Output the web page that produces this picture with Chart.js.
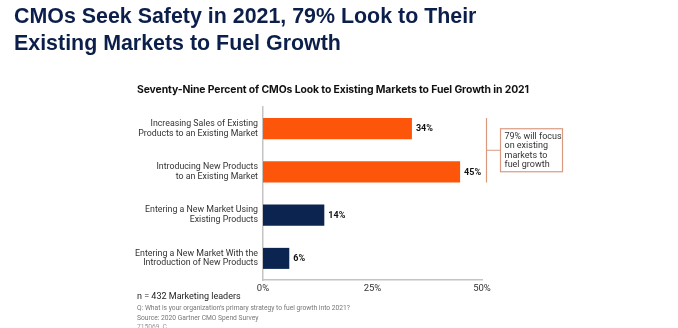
<!DOCTYPE html>
<html>
<head>
<meta charset="utf-8">
<script src="https://cdn.jsdelivr.net/npm/chart.js@4"></script>
<style>
  html, body { margin:0; padding:0; background:#fff; width:678px; height:328px; overflow:hidden; }
  #wrap { position:relative; width:678px; height:328px; }
  canvas { position:absolute; left:0; top:0; }
  .t { position:absolute; white-space:nowrap; }
  #title { left:14px; top:3px; font-family:"Liberation Sans", Arial, sans-serif; font-weight:bold; font-size:21.4px; line-height:27px; color:#0c1f4b; }
  #sub { left:137px; top:83px; font-family:"Inter", "Noto Sans", sans-serif; font-weight:700; font-size:10.4px; color:#111; letter-spacing:-0.1px; }
  #n { left:137px; top:291px; font-family:Roboto, "Noto Sans", sans-serif; font-size:9px; color:#222; }
  #q { left:137px; top:304px; font-family:Roboto, "Noto Sans", sans-serif; font-size:6.7px; color:#777; }
  #src { left:137px; top:314px; font-family:Roboto, "Noto Sans", sans-serif; font-size:6.7px; color:#777; }
  #id { left:137px; top:323px; font-family:Roboto, "Noto Sans", sans-serif; font-size:6.7px; color:#999; }
</style>
</head>
<body>
<div id="wrap">
  <canvas id="c" width="678" height="328"></canvas>
  <div class="t" id="title">CMOs Seek Safety in 2021, 79% Look to Their<br>Existing Markets to Fuel Growth</div>
  <div class="t" id="sub">Seventy-Nine Percent of CMOs Look to Existing Markets to Fuel Growth in 2021</div>
  <div class="t" id="n">n = 432 Marketing leaders</div>
  <div class="t" id="q">Q: What is your organization’s primary strategy to fuel growth into 2021?</div>
  <div class="t" id="src">Source: 2020 Gartner CMO Spend Survey</div>
  <div class="t" id="id">715069_C</div>
</div>
<script>
const categories = [
  ["Increasing Sales of Existing", "Products to an Existing Market"],
  ["Introducing New Products", "to an Existing Market"],
  ["Entering a New Market Using", "Existing Products"],
  ["Entering a New Market With the", "Introduction of New Products"]
];
const values = [34, 45, 14, 6];
const barColors = ["#fd560a", "#fd560a", "#0b2550", "#0b2550"];
const tickValues = [0, 25, 50];
const annotationLines = ["79% will focus", "on existing", "markets to", "fuel growth"];

const CHART_FONT = 'Roboto, "Noto Sans", sans-serif';

const overlay = {
  id: 'overlay',
  afterDatasetsDraw(chart) {
    const ctx = chart.ctx;
    const meta = chart.getDatasetMeta(0);
    ctx.save();
    ctx.font = 'bold 9px ' + CHART_FONT;
    ctx.fillStyle = '#111';
    ctx.textBaseline = 'middle';
    ctx.textAlign = 'left';
    meta.data.forEach((bar, i) => {
      ctx.fillText(values[i] + '%', bar.x + 4, bar.y + 0.5);
    });
    // bracket
    const b0 = meta.data[0], b1 = meta.data[1];
    const top = b0.y - b0.height / 2;
    const bot = b1.y + b1.height / 2;
    const bx = 486.5;
    ctx.strokeStyle = '#d99a80';
    ctx.lineWidth = 1.2;
    ctx.beginPath();
    ctx.moveTo(bx, top); ctx.lineTo(bx, bot);
    const mid = (top + bot) / 2;
    ctx.moveTo(bx, mid); ctx.lineTo(500.5, mid);
    ctx.stroke();
    ctx.strokeRect(500.5, mid - 21.5, 62, 43);
    ctx.font = '9px ' + CHART_FONT;
    ctx.fillStyle = '#333';
    annotationLines.forEach((t, i) => {
      ctx.fillText(t, 504.5, mid - 13.5 + i * 9.4);
    });
    ctx.restore();
  }
};

new Chart(document.getElementById('c'), {
  type: 'bar',
  data: {
    labels: categories,
    datasets: [{
      data: values,
      backgroundColor: barColors,
      borderWidth: 0,
      barPercentage: 0.486,
      categoryPercentage: 1.0
    }]
  },
  options: {
    indexAxis: 'y',
    responsive: false,
    animation: false,
    devicePixelRatio: 1,
    layout: { padding: { top: 107, right: 196, bottom: 0, left: 0 } },
    plugins: { legend: { display: false }, tooltip: { enabled: false } },
    scales: {
      x: {
        min: 0, max: 50,
        afterBuildTicks(scale) { scale.ticks = tickValues.map(v => ({ value: v })); },
        afterFit(scale) { scale.height = 48; },
        grid: { display: false, drawTicks: false },
        border: { display: true, color: '#c4c4c4', width: 1.5 },
        ticks: {
          padding: 3,
          color: '#333',
          font: { family: CHART_FONT, size: 9.5 },
          callback: v => v + '%'
        }
      },
      y: {
        afterFit(scale) { scale.width = 263; },
        grid: { display: false, drawTicks: false },
        border: { display: true, color: '#c4c4c4', width: 1.5 },
        ticks: {
          padding: 5,
          color: '#333',
          font: { family: CHART_FONT, size: 8.8, lineHeight: 1.1 }
        }
      }
    }
  },
  plugins: [overlay]
});
</script>
</body>
</html>
